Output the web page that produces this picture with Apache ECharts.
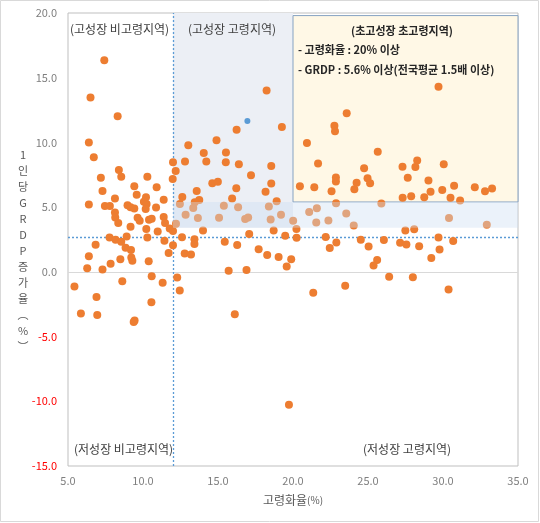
<!DOCTYPE html>
<html><head><meta charset="utf-8">
<script src="https://cdn.jsdelivr.net/npm/echarts@6/dist/echarts.min.js"></script>
<style>html,body{margin:0;padding:0;background:#fff}#c{width:540px;height:523px}</style>
</head><body><div id="c"></div>
<script>
// ---- data ----
const xRange = [5, 35, 5];
const yRange = [-15, 20, 5];
const agedThreshold = 12.0;      // vertical reference line (고령화율)
const avgGrowth = 2.7;           // horizontal reference line (GRDP 증가율)
const superAgedX = 20;           // 고령화율 20% 이상
const superGrowthY = 5.4;        // GRDP 5.6% 이상 box bottom
const bandBottom = 3.4;
const boxTop = 19.8;

const nonAgedPoints = [
[7.42,16.35],[6.50,13.48],[8.31,12.02],[6.39,10.0],[6.72,8.85],[8.39,7.87],[8.55,7.35],[7.19,7.28],[10.29,7.35],[7.30,6.25],
[9.42,6.62],[10.91,6.54],[9.58,5.95],[6.39,5.2],[8.13,5.66],[7.46,5.08],[7.79,5.08],[8.97,5.15],[9.17,5.0],[9.42,4.89],
[10.20,5.77],[10.06,5.41],[10.24,5.25],[10.18,4.85],[10.87,4.97],[11.38,5.58],[8.13,4.58],[8.15,4.2],[8.35,3.77],[9.64,4.18],
[9.78,3.95],[10.40,4.02],[10.58,4.1],[11.38,4.23],[11.47,3.77],[9.17,3.48],[10.22,3.31],[10.98,3.12],[11.78,3.35],[12.0,3.15],
[7.77,2.66],[8.17,2.48],[8.55,2.33],[8.91,2.74],[10.29,2.66],[11.43,2.41],[6.84,2.1],[8.84,1.87],[9.20,1.69],[12.0,2.05],
[6.39,1.2],[8.49,0.97],[9.22,1.1],[9.29,0.85],[10.38,0.82],[11.71,1.46],[6.28,0.28],[7.30,0.18],[7.84,0.62],[10.58,-0.34],
[5.43,-1.13],[8.62,-0.72],[11.31,-0.85],[6.90,-1.95],[5.86,-3.21],[6.95,-3.34],[10.56,-2.34],[9.44,-3.75],[9.38,-3.88]
];
const agedPoints = [
[18.24,14.02],[16.24,10.97],[19.26,11.2],[14.90,10.16],[13.02,9.78],[14.05,9.19],[15.53,9.23],[12.0,8.46],[12.80,8.52],[14.22,8.52],
[15.52,8.46],[16.39,8.32],[18.55,8.18],[12.18,7.79],[17.20,7.46],[11.98,7.18],[14.62,6.85],[14.99,6.96],[16.22,6.46],[18.55,6.83],
[18.17,6.18],[13.58,6.25],[12.62,5.79],[13.75,5.56],[13.45,5.37],[15.94,5.66],[18.91,5.45],
[12.46,5.25],[13.35,4.93],[15.39,5.10],[16.34,5.0],[18.39,5.05],[12.84,4.42],[13.66,4.16],[15.07,4.18],[16.81,4.08],[17.01,4.2],
[18.51,4.05],[19.20,4.41],[12.20,3.72],[20.01,3.95],[21.08,4.62],[21.59,4.91],[21.55,3.81],[22.36,3.96],[23.55,4.5],[22.87,5.31],
[25.89,5.28],[24.05,3.58],[30.40,4.16],[32.92,3.64],
[14.0,3.19],[17.08,2.92],[18.71,3.19],[19.48,2.79],[20.23,3.31],[20.24,2.64],[12.60,2.68],[13.43,2.52],[13.43,2.15],[15.45,2.32],
[16.28,2.08],[12.78,1.42],[13.20,1.35],[17.71,1.74],[18.28,1.31],[19.04,1.15],[19.88,0.97],[19.58,0.42],[22.18,2.7],[22.89,2.27],
[22.45,1.85],[24.52,2.48],[25.04,1.96],[26.06,2.47],[27.14,2.24],[27.56,2.12],[27.49,3.2],[28.08,3.29],[29.70,2.65],[30.68,2.39],
[28.41,1.97],[29.77,1.73],[29.22,1.08],[25.61,0.92],[25.37,0.5],[26.41,-0.38],[27.99,-0.42],[23.48,-1.08],[21.35,-1.62],[30.37,-1.36],
[19.73,-10.26],[15.71,0.08],[16.90,0.15],[16.12,-3.28],[12.28,-0.44],[12.45,-1.44]
];
const superAgedPoints = [
[29.70,14.31],[23.58,12.25],[22.76,11.28],[22.80,10.87],[20.93,9.95],[25.65,9.28],[21.67,8.38],[24.74,8.0],[27.30,8.12],[28.28,8.6],
[28.16,8.1],[30.05,8.31],[22.86,7.29],[22.86,6.98],[24.24,6.89],[24.09,6.39],[24.97,7.23],[25.14,6.85],[20.46,6.62],[21.42,6.54],
[22.57,6.22],[27.65,7.28],[29.03,7.05],[30.74,6.66],[32.12,6.54],[32.80,6.23],[33.27,6.45],[29.17,6.18],[29.95,6.32],[27.31,5.72],
[27.88,5.85],[28.75,5.77],[30.50,5.73],[31.14,5.51]
];
const highlightPoints = [[16.96,11.66]];

const regionLabels = ['(고성장 비고령지역)', '(고성장 고령지역)', '(저성장 비고령지역)', '(저성장 고령지역)'];
const boxTitle = '(초고성장 초고령지역)';
const boxLines = ['- 고령화율 : 20% 이상', '- GRDP : 5.6% 이상(전국평균 1.5배 이상)'];
const xTitle = '고령화율';
const xUnit = '(%)';
const yTitleChars = ['1','인','당','G','R','D','P','증','가','율','︵','%','︶'];

// ---- chart ----
const KR = '"Noto Sans CJK KR", "Noto Sans", sans-serif';
const chart = echarts.init(document.getElementById('c'), null, {renderer: 'canvas'});
const fmt = v => v.toFixed(1);

const option = {
  animation: false,
  backgroundColor: '#ffffff',
  grid: {left: 68, right: 22, top: 13, bottom: 57, show: true, borderColor: '#bfbfbf', borderWidth: 1, backgroundColor: '#ffffff'},
  xAxis: {
    type: 'value', min: xRange[0], max: xRange[1], interval: xRange[2],
    axisLine: {show: false}, axisTick: {show: false}, splitLine: {show: false},
    axisLabel: {formatter: fmt, color: '#7f7f7f', fontSize: 11, margin: 9, fontFamily: KR},
    name: '{a|' + xTitle + '}{b|' + xUnit + '}', nameLocation: 'middle', nameGap: 28,
    nameTextStyle: {rich: {a: {fontSize: 12, color: '#595959', fontFamily: KR}, b: {fontSize: 10, color: '#595959', fontFamily: KR}}}
  },
  yAxis: {
    type: 'value', min: yRange[0], max: yRange[1], interval: yRange[2],
    axisLine: {show: false}, axisTick: {show: false}, splitLine: {show: false},
    axisLabel: {
      formatter: v => (v < 0 ? '{n|' : '{p|') + fmt(v) + '}', margin: 11,
      rich: {n: {color: '#ff0000', fontSize: 11, fontFamily: KR}, p: {color: '#7f7f7f', fontSize: 11, fontFamily: KR}}
    }
  },
  series: [
    {
      type: 'scatter', data: [], z: 1, silent: true,
      markArea: {
        silent: true, z: 1, label: {show: false},
        data: [
          [{xAxis: agedThreshold, yAxis: bandBottom, itemStyle: {color: '#eceff5', opacity: 1}}, {xAxis: superAgedX, yAxis: yRange[1]}],
          [{xAxis: superAgedX, yAxis: superGrowthY, itemStyle: {color: '#fff8e6', opacity: 1, borderColor: '#86a2c2', borderWidth: 1}}, {xAxis: xRange[1], yAxis: boxTop}]
        ]
      },
      markLine: {
        silent: true, z: 1, symbol: ['none', 'none'], label: {show: false},
        data: [
          {yAxis: 0, lineStyle: {color: '#d9d9d9', type: 'solid', width: 1}},
          {xAxis: agedThreshold, lineStyle: {color: '#5B9BD5', type: [2, 2], width: 1.3}},
          {yAxis: avgGrowth, lineStyle: {color: '#5B9BD5', type: [2, 2], width: 1.3}}
        ]
      }
    },
    {type: 'scatter', z: 3, symbolSize: 8, itemStyle: {color: '#ED7D31', opacity: 1}, data: nonAgedPoints},
    {type: 'scatter', z: 3, symbolSize: 8, itemStyle: {color: '#ED7D31', opacity: 1}, data: agedPoints},
    {type: 'scatter', z: 3, symbolSize: 8, itemStyle: {color: '#ED7D31', opacity: 1}, data: superAgedPoints},
    {type: 'scatter', z: 3, symbolSize: 6, itemStyle: {color: '#5B9BD5', opacity: 1}, data: highlightPoints},
    {
      type: 'scatter', data: [], z: 6, silent: true,
      markArea: {
        silent: true, z: 6, label: {show: false},
        data: [[{xAxis: agedThreshold, yAxis: bandBottom, itemStyle: {color: 'rgba(205,222,242,0.4)', opacity: 1}}, {xAxis: xRange[1], yAxis: superGrowthY}]]
      }
    }
  ],
  graphic: {
    elements: [
      {type: 'rect', z: 100, silent: true, shape: {x: 0.5, y: 0.5, width: 538, height: 521}, style: {fill: 'none', stroke: '#d9d9d9', lineWidth: 1}},
      {type: 'text', z: 100, silent: true, x: 23, y: 147, style: {text: yTitleChars.join('\n'), lineHeight: 16, fill: '#595959', align: 'center', verticalAlign: 'top', font: '11px ' + KR}},
      {type: 'text', z: 100, silent: true, x: 70, y: 29, style: {text: regionLabels[0], fill: '#404040', align: 'left', verticalAlign: 'middle', font: '12px ' + KR}},
      {type: 'text', z: 100, silent: true, x: 232, y: 29, style: {text: regionLabels[1], fill: '#404040', align: 'center', verticalAlign: 'middle', font: '12px ' + KR}},
      {type: 'text', z: 100, silent: true, x: 74, y: 449, style: {text: regionLabels[2], fill: '#404040', align: 'left', verticalAlign: 'middle', font: '12px ' + KR}},
      {type: 'text', z: 100, silent: true, x: 363, y: 449, style: {text: regionLabels[3], fill: '#404040', align: 'left', verticalAlign: 'middle', font: '12px ' + KR}},
      {type: 'text', z: 100, silent: true, x: 402, y: 31, style: {text: boxTitle, fill: '#262626', align: 'center', verticalAlign: 'middle', font: 'bold 11px ' + KR}},
      {type: 'text', z: 100, silent: true, x: 298, y: 50, style: {text: boxLines[0], fill: '#262626', align: 'left', verticalAlign: 'middle', font: 'bold 11px ' + KR}},
      {type: 'text', z: 100, silent: true, x: 298, y: 70, style: {text: boxLines[1], fill: '#262626', align: 'left', verticalAlign: 'middle', font: 'bold 11px ' + KR}}
    ]
  }
};
chart.setOption(option);
</script></body></html>
